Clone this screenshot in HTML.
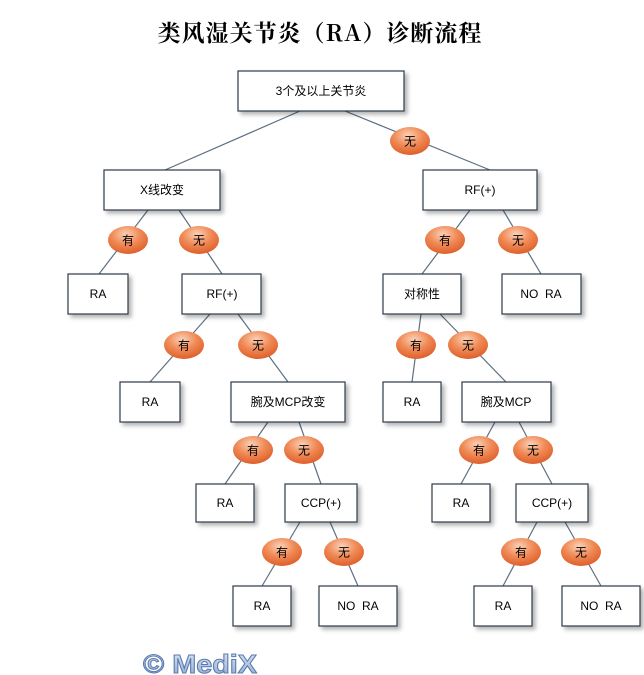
<!DOCTYPE html>
<html><head><meta charset="utf-8"><style>
html,body{margin:0;padding:0;background:#fff;}
svg{display:block;}
text{font-family:"Liberation Sans","Noto Sans CJK SC",sans-serif;font-size:12px;fill:#000;}
</style></head><body>
<svg width="644" height="675" viewBox="0 0 644 675" xmlns="http://www.w3.org/2000/svg">
<defs>
<radialGradient id="og" cx="0.45" cy="0.3" r="0.8">
<stop offset="0" stop-color="#fbd2b8"/><stop offset="0.45" stop-color="#f08a56"/><stop offset="1" stop-color="#d9531e"/>
</radialGradient>
<filter id="sh" x="-20%" y="-20%" width="150%" height="150%"><feDropShadow dx="3" dy="3" stdDeviation="2" flood-color="#000" flood-opacity="0.3"/></filter>
<linearGradient id="mg" x1="0" y1="0" x2="0" y2="1"><stop offset="0" stop-color="#dfe8f5"/><stop offset="1" stop-color="#8ea8cf"/></linearGradient>
</defs>
<text x="320" y="41" text-anchor="middle" style="font-size:23px;font-weight:bold;font-family:'Noto Serif CJK SC','Noto Sans CJK SC',serif;letter-spacing:1px">类风湿关节炎（RA）诊断流程</text>
<g stroke="#5c6f82" stroke-width="1.2" fill="none">
<line x1="300" y1="111" x2="165" y2="170"/>
<line x1="345" y1="111" x2="490" y2="170"/>
<line x1="148" y1="210" x2="99" y2="274"/>
<line x1="179" y1="210" x2="222" y2="274"/>
<line x1="470" y1="210" x2="422" y2="274"/>
<line x1="503" y1="210" x2="541" y2="274"/>
<line x1="210" y1="314" x2="150" y2="382"/>
<line x1="238" y1="314" x2="288" y2="382"/>
<line x1="421" y1="314" x2="412" y2="382"/>
<line x1="440" y1="314" x2="506" y2="382"/>
<line x1="268" y1="422" x2="225" y2="484"/>
<line x1="299" y1="422" x2="321" y2="484"/>
<line x1="495" y1="422" x2="461" y2="484"/>
<line x1="519" y1="422" x2="552" y2="484"/>
<line x1="300" y1="522" x2="262" y2="586"/>
<line x1="330" y1="522" x2="358" y2="586"/>
<line x1="537" y1="522" x2="503" y2="586"/>
<line x1="565" y1="522" x2="601" y2="586"/>
</g>
<g fill="#fff" stroke="#2e3b4a" stroke-width="1.2" filter="url(#sh)">
<rect x="238" y="71" width="166" height="40"/>
<rect x="104" y="170" width="116" height="40"/>
<rect x="423" y="170" width="114" height="40"/>
<rect x="68" y="274" width="60" height="40"/>
<rect x="182" y="274" width="79" height="40"/>
<rect x="383" y="274" width="78" height="40"/>
<rect x="502" y="274" width="79" height="40"/>
<rect x="120" y="382" width="60" height="40"/>
<rect x="231" y="382" width="114" height="40"/>
<rect x="383" y="382" width="58" height="40"/>
<rect x="462" y="382" width="89" height="40"/>
<rect x="196" y="484" width="58" height="38"/>
<rect x="285" y="484" width="72" height="38"/>
<rect x="432" y="484" width="58" height="38"/>
<rect x="516" y="484" width="72" height="38"/>
<rect x="233" y="586" width="58" height="40"/>
<rect x="319" y="586" width="78" height="40"/>
<rect x="474" y="586" width="58" height="40"/>
<rect x="562" y="586" width="78" height="40"/>
</g>
<g text-anchor="middle">
<text x="321" y="95">3个及以上关节炎</text>
<text x="162" y="194">X线改变</text>
<text x="480" y="194">RF(+)</text>
<text x="98" y="298">RA</text>
<text x="222" y="298">RF(+)</text>
<text x="422" y="298">对称性</text>
<text x="541" y="298">NO&#160;&#160;RA</text>
<text x="150" y="406">RA</text>
<text x="288" y="406">腕及MCP改变</text>
<text x="412" y="406">RA</text>
<text x="506" y="406">腕及MCP</text>
<text x="225" y="507">RA</text>
<text x="321" y="507">CCP(+)</text>
<text x="461" y="507">RA</text>
<text x="552" y="507">CCP(+)</text>
<text x="262" y="610">RA</text>
<text x="358" y="610">NO&#160;&#160;RA</text>
<text x="503" y="610">RA</text>
<text x="601" y="610">NO&#160;&#160;RA</text>
</g>
<g>
<g transform="translate(410,141)"><ellipse rx="20" ry="14" fill="url(#og)"/><text y="4.5" text-anchor="middle">无</text></g>
<g transform="translate(128,240)"><ellipse rx="20" ry="14" fill="url(#og)"/><text y="4.5" text-anchor="middle">有</text></g>
<g transform="translate(199,240)"><ellipse rx="20" ry="14" fill="url(#og)"/><text y="4.5" text-anchor="middle">无</text></g>
<g transform="translate(445,240)"><ellipse rx="20" ry="14" fill="url(#og)"/><text y="4.5" text-anchor="middle">有</text></g>
<g transform="translate(518,240)"><ellipse rx="20" ry="14" fill="url(#og)"/><text y="4.5" text-anchor="middle">无</text></g>
<g transform="translate(184,345)"><ellipse rx="20" ry="14" fill="url(#og)"/><text y="4.5" text-anchor="middle">有</text></g>
<g transform="translate(258,345)"><ellipse rx="20" ry="14" fill="url(#og)"/><text y="4.5" text-anchor="middle">无</text></g>
<g transform="translate(416,345)"><ellipse rx="20" ry="14" fill="url(#og)"/><text y="4.5" text-anchor="middle">有</text></g>
<g transform="translate(468,345)"><ellipse rx="20" ry="14" fill="url(#og)"/><text y="4.5" text-anchor="middle">无</text></g>
<g transform="translate(253,450)"><ellipse rx="20" ry="14" fill="url(#og)"/><text y="4.5" text-anchor="middle">有</text></g>
<g transform="translate(304,450)"><ellipse rx="20" ry="14" fill="url(#og)"/><text y="4.5" text-anchor="middle">无</text></g>
<g transform="translate(479,450)"><ellipse rx="20" ry="14" fill="url(#og)"/><text y="4.5" text-anchor="middle">有</text></g>
<g transform="translate(533,450)"><ellipse rx="20" ry="14" fill="url(#og)"/><text y="4.5" text-anchor="middle">无</text></g>
<g transform="translate(282,552)"><ellipse rx="20" ry="14" fill="url(#og)"/><text y="4.5" text-anchor="middle">有</text></g>
<g transform="translate(344,552)"><ellipse rx="20" ry="14" fill="url(#og)"/><text y="4.5" text-anchor="middle">无</text></g>
<g transform="translate(521,552)"><ellipse rx="20" ry="14" fill="url(#og)"/><text y="4.5" text-anchor="middle">有</text></g>
<g transform="translate(581,552)"><ellipse rx="20" ry="14" fill="url(#og)"/><text y="4.5" text-anchor="middle">无</text></g>
</g>
<text x="143" y="673" textLength="114" lengthAdjust="spacingAndGlyphs" style="font-size:26px;font-weight:bold;fill:url(#mg);stroke:#5a7bb0;stroke-width:1">© MediX</text>
</svg>
</body></html>
